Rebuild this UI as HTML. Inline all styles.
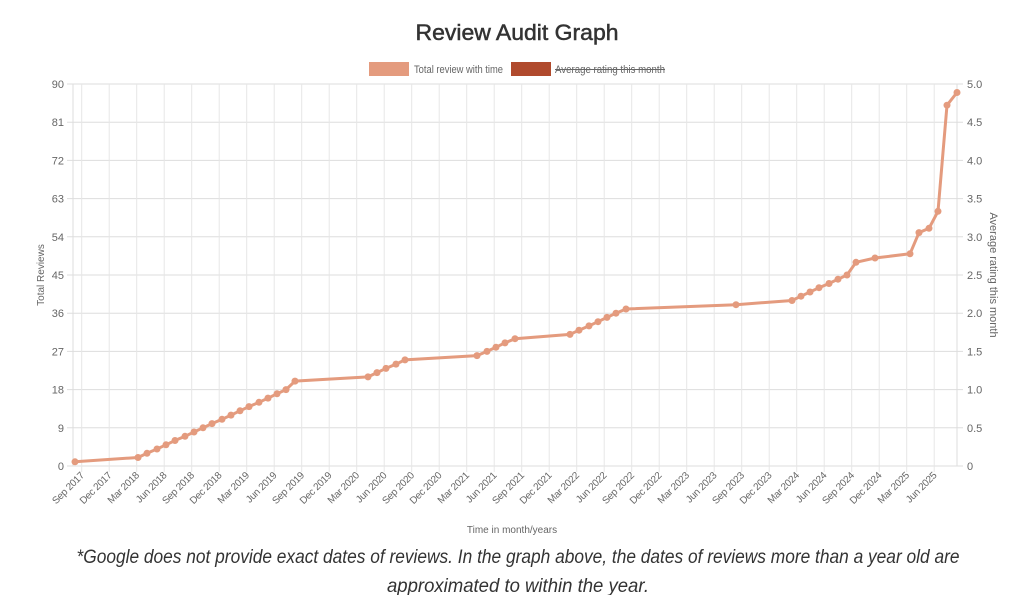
<!DOCTYPE html>
<html><head><meta charset="utf-8"><style>
body{margin:0;background:#fff;width:1024px;height:595px;overflow:hidden;font-family:"Liberation Sans",Arial,sans-serif}
</style></head><body>
<svg id="c" width="1024" height="595" xmlns="http://www.w3.org/2000/svg" font-family="Liberation Sans, Arial, sans-serif">
<text x="517" y="40" text-anchor="middle" font-size="22" fill="#333" stroke="#333" stroke-width="0.5" textLength="203" lengthAdjust="spacingAndGlyphs">Review Audit Graph</text>
<rect x="369" y="62" width="40" height="14" fill="#e49b7e"/>
<text x="414" y="73" font-size="11" fill="#666" textLength="89" lengthAdjust="spacingAndGlyphs">Total review with time</text>
<rect x="511" y="62" width="40" height="14" fill="#b04a2d"/>
<text x="555" y="73" font-size="11" fill="#666" textLength="110" lengthAdjust="spacingAndGlyphs">Average rating this month</text>
<line x1="555" y1="69.5" x2="665" y2="69.5" stroke="#666" stroke-width="1"/>
<g id="grid"></g>
<text transform="translate(44,275) rotate(-90)" text-anchor="middle" font-size="10" fill="#666">Total Reviews</text>
<text transform="translate(990,275) rotate(90)" text-anchor="middle" font-size="11" fill="#666">Average rating this month</text>
<text x="512" y="533" text-anchor="middle" font-size="10" fill="#666">Time in month/years</text>
<text x="518" y="563" text-anchor="middle" font-size="19" font-style="italic" fill="#333" textLength="883" lengthAdjust="spacingAndGlyphs">*Google does not provide exact dates of reviews. In the graph above, the dates of reviews more than a year old are</text>
<text x="518" y="592" text-anchor="middle" font-size="19" font-style="italic" fill="#333" textLength="262" lengthAdjust="spacingAndGlyphs">approximated to within the year.</text>
</svg>
<script>
var g=document.getElementById('grid'),s='';
var L=73,R=957,T=84,B=466;
function Y(v){return B-v*(B-T)/90;}
for(var i=0;i<=10;i++){var y=Y(i*9);s+='<line x1="'+(L-6)+'" y1="'+y+'" x2="'+(R+6)+'" y2="'+y+'" stroke="#ddd"/>';
s+='<text x="'+(L-9)+'" y="'+(y+4)+'" text-anchor="end" font-size="11" fill="#666">'+(i*9)+'</text>';
s+='<text x="'+(R+10)+'" y="'+(y+4)+'" font-size="11" fill="#666">'+(i==0?'0':(i*0.5).toFixed(1))+'</text>';}
var m=['Sep','Dec','Mar','Jun'];
for(var k=0;k<32;k++){var x=81.7+27.5*k;var yr=2017+Math.floor((k+2)/4);var lab=m[k%4]+' '+yr;
s+='<line x1="'+x+'" y1="'+T+'" x2="'+x+'" y2="'+(B+6)+'" stroke="#e6e6e6"/>';
s+='<text transform="translate('+(x+3)+','+(B+10)+') rotate(-45)" text-anchor="end" font-size="10" fill="#666" letter-spacing="-0.3">'+lab+'</text>';}
s+='<line x1="'+L+'" y1="'+T+'" x2="'+L+'" y2="'+B+'" stroke="#ddd"/><line x1="'+R+'" y1="'+T+'" x2="'+R+'" y2="'+B+'" stroke="#ddd"/>';
var d=[[75,1],[138,2],[147,3],[157,4],[166,5],[175,6],[185,7],[194,8],[203,9],[212,10],[222,11],[231,12],[240,13],[249,14],[259,15],[268,16],[277,17],[286,18],[295,20],[368,21],[377,22],[386,23],[396,24],[405,25],[477,26],[487,27],[496,28],[505,29],[515,30],[570,31],[579,32],[589,33],[598,34],[607,35],[616,36],[626,37],[736,38],[792,39],[801,40],[810,41],[819,42],[829,43],[838,44],[847,45],[856,48],[875,49],[910,50],[919,55],[929,56],[938,60],[947,85],[957,88]];
var p=d.map(function(a){return a[0]+','+Y(a[1]).toFixed(1)}).join(' ');
s+='<polyline points="'+p+'" fill="none" stroke="#e49b7e" stroke-width="3"/>';
d.forEach(function(a){s+='<circle cx="'+a[0]+'" cy="'+Y(a[1]).toFixed(1)+'" r="3.5" fill="#e49b7e"/>';});
g.innerHTML=s;
</script>
</body></html>
